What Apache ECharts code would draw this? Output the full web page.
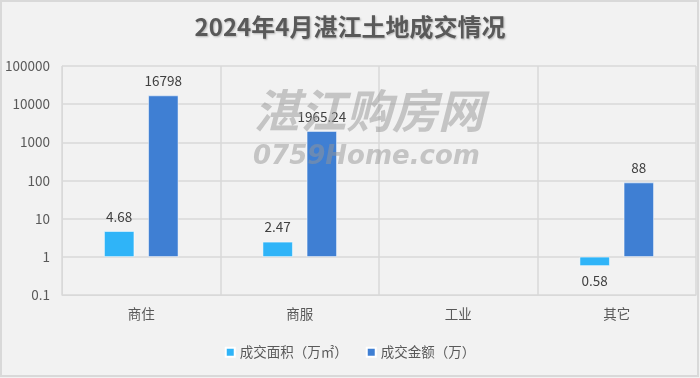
<!DOCTYPE html>
<html><head><meta charset="utf-8">
<script src="https://cdn.jsdelivr.net/npm/echarts@6/dist/echarts.min.js"></script>
<style>html,body{margin:0;padding:0;background:#f2f2f2}#c{width:700px;height:378px}</style>
</head><body><div id="c"></div>
<script>
const categories = ['商住', '商服', '工业', '其它'];
const areaValues = [4.68, 2.47, null, 0.58];
const amountValues = [16798, 1965.24, null, 88];
const seriesNames = ['成交面积（万㎡）', '成交金额（万）'];
const titleText = '2024年4月湛江土地成交情况';

const font = '"Noto Sans CJK SC", "Noto Sans", sans-serif';
const chart = echarts.init(document.getElementById('c'));
chart.setOption({
  backgroundColor: '#f2f2f2',
  animation: false,
  title: {
    text: titleText, left: 'center', top: 10,
    textStyle: { fontSize: 24, fontWeight: 'bold', color: '#595959', fontFamily: font,
      textShadowColor: 'rgba(0,0,0,0.25)', textShadowBlur: 2, textShadowOffsetX: 1, textShadowOffsetY: 1 }
  },
  graphic: [
    { type: 'rect', shape: { x: 1, y: 1, width: 697, height: 375 }, style: { fill: 'none', stroke: '#d9d9d9', lineWidth: 2 }, silent: true, z: -1 },
    { type: 'text', left: 254, top: 88, silent: true, z: 100,
      style: { text: '湛江购房网', font: 'italic bold 46px "Noto Sans CJK SC"', fill: 'rgba(150,150,150,0.5)' } },
    { type: 'text', left: 253, top: 144, silent: true, z: 100,
      style: { text: '0759Home.com', font: 'italic bold 26px "DejaVu Sans"', fill: 'rgba(150,150,150,0.5)' } }
  ],
  legend: {
    bottom: 14, left: 'center', itemWidth: 9, itemHeight: 9, itemGap: 18, icon: 'rect',
    textStyle: { fontSize: 13.5, color: '#595959', fontFamily: font }
  },
  grid: { left: 62, right: 4, top: 66, bottom: 83 },
  xAxis: {
    type: 'category', data: categories,
    axisLine: { lineStyle: { color: '#d9d9d9' } },
    axisTick: { show: false },
    axisLabel: { fontSize: 13.5, color: '#595959', fontFamily: font, margin: 12 },
    splitLine: { show: true, lineStyle: { color: '#d9d9d9', width: 1.5 } }
  },
  yAxis: {
    type: 'log', logBase: 10, min: 0.1, max: 100000,
    axisLine: { show: true, lineStyle: { color: '#d9d9d9' } },
    axisTick: { show: false },
    axisLabel: { fontSize: 13.5, color: '#595959', fontFamily: font, margin: 12,
      formatter: v => String(+v.toPrecision(6)) },
    splitLine: { lineStyle: { color: '#d9d9d9', width: 1.5 } }
  },
  series: [
    { name: seriesNames[0], type: 'bar', barWidth: 30, barGap: '47%',
      itemStyle: { color: '#2fb4f8', borderColor: '#ffffff', borderWidth: 0.5 },
      label: { show: true, position: 'top', distance: 8, fontSize: 13.5, color: '#404040', fontFamily: font },
      data: areaValues.map(v => v !== null && v < 1 ? { value: v, label: { position: 'bottom' } } : v) },
    { name: seriesNames[1], type: 'bar', barWidth: 30,
      itemStyle: { color: '#3f7fd3', borderColor: '#ffffff', borderWidth: 0.5 },
      label: { show: true, position: 'top', distance: 8, fontSize: 13.5, color: '#404040', fontFamily: font },
      data: amountValues }
  ]
});
</script></body></html>
